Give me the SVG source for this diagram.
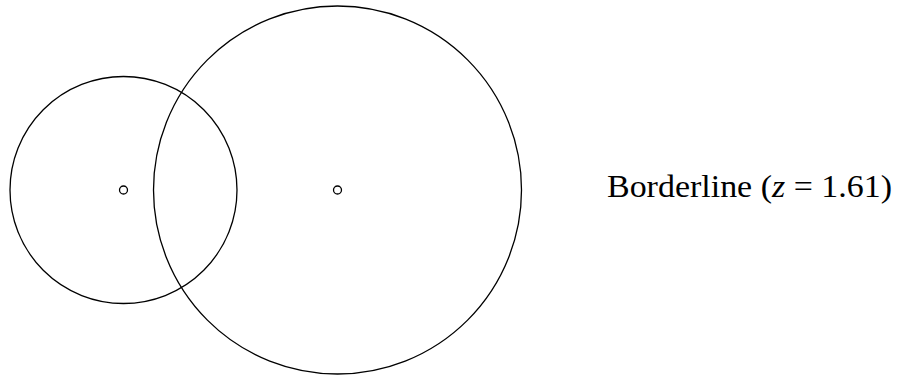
<svg xmlns="http://www.w3.org/2000/svg" width="901" height="377" viewBox="0 0 901 377">
<style>
.c{fill:none;stroke:#000;stroke-width:1.3}
.d{fill:#fff;stroke:#000;stroke-width:1.3}
.t{font-family:"Liberation Serif","DejaVu Serif",serif;font-size:32px;fill:#000}
</style>
<rect width="901" height="377" fill="#fff"/>
<g id="small-circle">
<circle class="c" cx="123.5" cy="190" r="113.5"/>
<circle class="d" cx="123.5" cy="190" r="4"/>
</g>
<g id="big-circle">
<circle class="c" cx="337.5" cy="190" r="184"/>
<circle class="d" cx="337.5" cy="190" r="4"/>
</g>
<g id="label">
<text class="t" x="607" y="197" textLength="285" lengthAdjust="spacingAndGlyphs">Borderline (<tspan font-style="italic">z</tspan> = 1.61)</text>
</g>
</svg>
